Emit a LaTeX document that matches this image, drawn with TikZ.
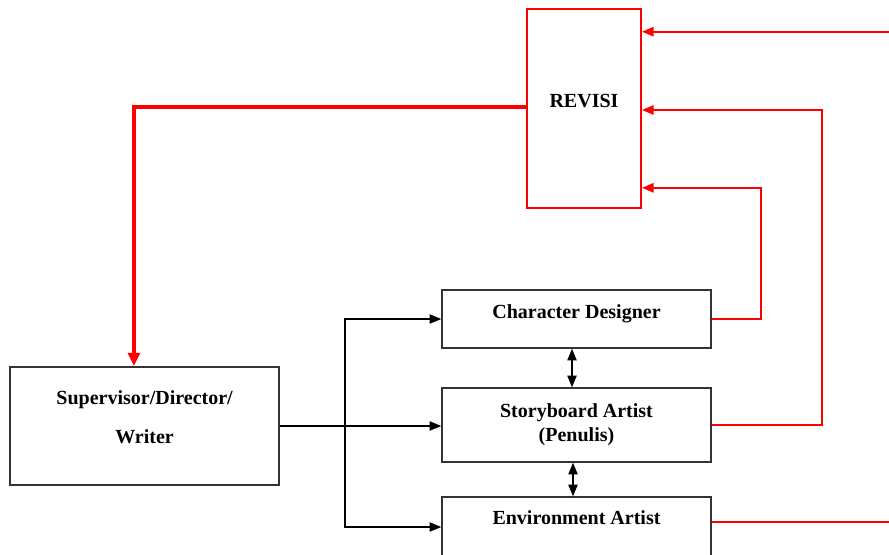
\documentclass[tikz,border=0pt]{standalone}
\usepackage{fontspec}
\setmainfont{Liberation Serif}
\usetikzlibrary{arrows.meta,positioning}

\begin{document}
\begin{tikzpicture}[x=0.6pt,y=-0.6pt,
    >={Triangle[length=7pt,width=5.6pt]},
    box/.style={draw=black!80,line width=0.9pt,inner sep=0pt,minimum width=161.4pt},
    txt/.style={font=\fontsize{12}{14.4}\selectfont\bfseries,align=center,inner sep=0pt},
    blk/.style={line width=0.7pt},
    rd/.style={red,line width=1.2pt},
    rdthick/.style={red,line width=2.4pt,-{Triangle[length=8pt,width=7pt]}}]
    \useasboundingbox (0,0) rectangle (889,554);
    \clip (0,0) rectangle (889,554);

    % boxes
    \node[box,draw=red,line width=1.2pt,minimum width=68.4pt,minimum height=119.4pt,
        label={[txt,yshift=4.2pt]center:REVISI}] (rev) at (584,108.5) {};
    \node[box,minimum height=34.8pt,label={[txt,yshift=3.4pt]center:Character Designer}] (char) at (576.5,319) {};
    \node[box,minimum height=44.4pt,label={[txt]center:{Storyboard Artist\\(Penulis)}}] (story) at (576.5,425) {};
    \node[box,minimum height=36pt,label={[txt,yshift=5.4pt]center:Environment Artist}] (env) at (576.5,527) {};
    \node[box,minimum height=70.8pt,label={[txt,yshift=5pt]center:{Supervisor/Director/\\[9pt]Writer}}] (sup) at (144.6,426) {};

    \coordinate (fork) at (345,426);
    \coordinate (outtop) at (889,31.7);
    \coordinate (outenv) at (889,522);

    % black connectors
    \draw[blk,->] (sup.east) -- (sup.east -| story.west);
    \draw[blk,<->] (char.west) -| (fork) |- (env.west);
    \draw[blk,<->] ([xshift=-2.7pt]char.south) -- ([xshift=-2.7pt]story.north);
    \draw[blk,<->] ([xshift=-2.1pt]story.south) -- ([xshift=-2.1pt]env.north);

    % revisi loop
    \draw[rd,->] (outtop) -- (outtop -| rev.east);
    \draw[rd,->] (story.east) -- ++(110,0) |- ([yshift=-0.9pt]rev.east);
    \draw[rd,->] (char.east) -- ++(49.5,0) |- ([yshift=-47.6pt]rev.east);
    \draw[rd] (env.east |- outenv) -- (outenv);
    \draw[rdthick] ([yshift=1.1pt]rev.west) -| ([xshift=-6.4pt]sup.north);
\end{tikzpicture}
\end{document}
